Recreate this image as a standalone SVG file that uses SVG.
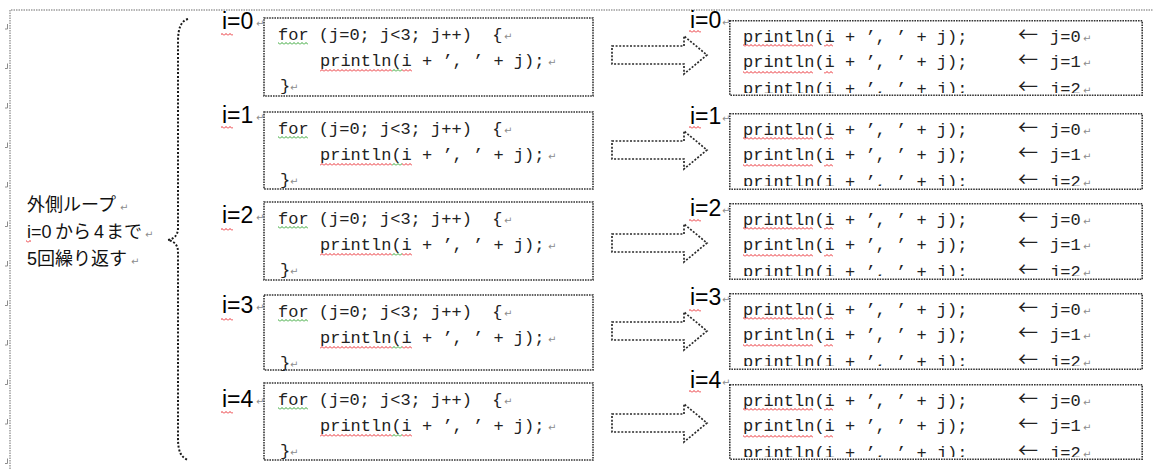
<svg xmlns="http://www.w3.org/2000/svg" width="1153" height="469" viewBox="0 0 1153 469">
<style>
  .frame{fill:none;stroke:#9d9d9d;stroke-width:1.5;stroke-dasharray:1.5 1}
  .mark{fill:none;stroke:#8c8c8c;stroke-width:1}
  .box{fill:#fff;stroke:#333;stroke-width:1.6;stroke-dasharray:1.6 1}
  .brace{fill:none;stroke:#1a1a1a;stroke-width:2;stroke-dasharray:2 1.8}
  .arrow{fill:#fff;stroke:#2a2a2a;stroke-width:1.7;stroke-dasharray:2 1.6;stroke-linejoin:miter}
  .code{font-family:"Liberation Mono","DejaVu Sans Mono",monospace;font-size:17px;fill:#222;white-space:pre}
  .lbl{font-family:"Liberation Sans",Arial,sans-serif;font-size:23px;fill:#000}
  .jp{font-family:"Liberation Sans","Noto Sans CJK JP",sans-serif;font-size:18px;fill:#111}
  .la{font-family:"Noto Sans CJK JP",sans-serif;font-size:20px;fill:#222}
  .ret{font-family:"DejaVu Sans",sans-serif;font-size:10px;fill:#8c8c8c}
</style>
<defs>
  <pattern id="wavyRed" width="4" height="3" patternUnits="userSpaceOnUse">
    <path d="M0,2.5 L2,0.5 L4,2.5" fill="none" stroke="#e8141a" stroke-width="0.9"/>
  </pattern>
  <pattern id="wavyGreen" width="4" height="3" patternUnits="userSpaceOnUse">
    <path d="M0,2.5 L2,0.5 L4,2.5" fill="none" stroke="#1a9a1a" stroke-width="0.9"/>
  </pattern>
  <!-- the last unrolled line is cut off by the box edge -->
  <clipPath id="lastRowClip">
    <rect x="0" y="0" width="414" height="73"/>
  </clipPath>
  <!-- block arrow, centred on y=0 -->
  <path id="blockArrow" class="arrow" d="M612,-9 H684 V-19 L707,0 L684,19 V9 H612 Z"/>
  <!-- for-loop body shown in each left box -->
  <g id="loopCode">
    <text class="code" x="14" y="22">for (j=0; j&lt;3; j++)  {</text>
    <text class="ret" x="240" y="22">↵</text>
    <rect x="14" y="24" width="30" height="3" fill="url(#wavyGreen)"/>
    <text class="code" x="56" y="48">println(i + ’, ’ + j);</text>
    <text class="ret" x="284" y="48">↵</text>
    <rect x="56" y="51" width="72" height="3" fill="url(#wavyRed)"/>
    <rect x="128" y="51" width="10" height="3" fill="url(#wavyGreen)"/>
    <rect x="138" y="51" width="10" height="3" fill="url(#wavyRed)"/>
    <text class="code" x="16" y="73">}</text>
    <text class="ret" x="26" y="73">↵</text>
  </g>
  <!-- three unrolled calls shown in each right box -->
  <g id="unrolled">
    <text class="code" x="14" y="22">println(i + ’, ’ + j);</text>
    <text class="la" x="289" y="22">←</text>
    <text class="code" x="321" y="22">j=0</text>
    <text class="ret" x="354" y="22">↵</text>
    <rect x="14" y="24" width="70" height="3" fill="url(#wavyRed)"/>
    <rect x="95" y="24" width="9" height="3" fill="url(#wavyRed)"/>
    <text class="code" x="14" y="47">println(i + ’, ’ + j);</text>
    <text class="la" x="289" y="47">←</text>
    <text class="code" x="321" y="47">j=1</text>
    <text class="ret" x="354" y="47">↵</text>
    <rect x="14" y="51" width="70" height="3" fill="url(#wavyRed)"/>
    <rect x="95" y="51" width="9" height="3" fill="url(#wavyRed)"/>
    <g clip-path="url(#lastRowClip)">
      <text class="code" x="14" y="74">println(i + ’, ’ + j);</text>
      <text class="la" x="289" y="74">←</text>
      <text class="code" x="321" y="74">j=2</text>
      <text class="ret" x="354" y="74">↵</text>
    </g>
  </g>
</defs>

<rect width="1153" height="469" fill="#fff"/>

<!-- page frame and margin line markers -->
<g id="page">
  <path class="frame" d="M10,469 V10 H1153"/>
  <path class="mark" d="M7.5,24 V29 H5 M7.5,63.5 V68.5 H5 M7.5,103 V108 H5 M7.5,142.5 V147.5 H5 M7.5,182 V187 H5 M7.5,221.5 V226.5 H5 M7.5,261 V266 H5 M7.5,300.5 V305.5 H5 M7.5,340 V345 H5 M7.5,379.5 V384.5 H5 M7.5,419 V424 H5 M7.5,458.5 V463.5 H5"/>
</g>

<!-- outer loop description -->
<g id="outer-label">
  <text class="jp" x="27" y="211">外側ループ</text>
  <text class="ret" x="120" y="211">↵</text>
  <text class="jp" y="238"><tspan x="27">i=0</tspan><tspan x="55">から</tspan><tspan x="94">4</tspan><tspan x="106">まで</tspan></text>
  <rect x="26" y="240" width="5" height="3" fill="url(#wavyRed)"/>
  <text class="ret" x="145" y="238">↵</text>
  <text class="jp" x="27" y="265">5回繰り返す</text>
  <text class="ret" x="131" y="265">↵</text>
</g>

<g id="brace">
  <path class="brace" d="M188,19 C181,21 178,28 178,42 V228 Q178,238 168,240 Q178,242 178,252 V438 C178,452 181,457 188,460"/>
</g>

<!-- inner loops as written -->
<g id="loop-i0">
  <text class="lbl" x="222" y="29">i=0</text>
  <rect x="221" y="33" width="12" height="3" fill="url(#wavyRed)"/>
  <text class="ret" x="256" y="27">↵</text>
  <rect class="box" x="264" y="18" width="329" height="78"/>
  <use href="#loopCode" x="264" y="18"/>
</g>
<g id="loop-i1">
  <text class="lbl" x="222" y="123">i=1</text>
  <rect x="221" y="126" width="12" height="3" fill="url(#wavyRed)"/>
  <text class="ret" x="256" y="121">↵</text>
  <rect class="box" x="264" y="112" width="329" height="77"/>
  <use href="#loopCode" x="264" y="112"/>
</g>
<g id="loop-i2">
  <text class="lbl" x="222" y="223">i=2</text>
  <rect x="221" y="228" width="12" height="3" fill="url(#wavyRed)"/>
  <text class="ret" x="256" y="221">↵</text>
  <rect class="box" x="264" y="202" width="329" height="78"/>
  <use href="#loopCode" x="264" y="202"/>
</g>
<g id="loop-i3">
  <text class="lbl" x="222" y="313">i=3</text>
  <rect x="221" y="318" width="12" height="3" fill="url(#wavyRed)"/>
  <text class="ret" x="256" y="311">↵</text>
  <rect class="box" x="264" y="295" width="329" height="75"/>
  <use href="#loopCode" x="264" y="295"/>
</g>
<g id="loop-i4">
  <text class="lbl" x="222" y="407">i=4</text>
  <rect x="221" y="411" width="12" height="3" fill="url(#wavyRed)"/>
  <text class="ret" x="256" y="405">↵</text>
  <rect class="box" x="264" y="383" width="329" height="77"/>
  <use href="#loopCode" x="264" y="383"/>
</g>

<!-- block arrows from each loop to its unrolled form -->
<g id="connectors">
  <use href="#blockArrow" y="55"/>
  <use href="#blockArrow" y="150"/>
  <use href="#blockArrow" y="243"/>
  <use href="#blockArrow" y="331"/>
  <use href="#blockArrow" y="423"/>
</g>

<!-- unrolled statements -->
<g id="unrolled-i0">
  <text class="lbl" x="690" y="28">i=0</text>
  <rect x="689" y="30" width="12" height="3" fill="url(#wavyRed)"/>
  <text class="ret" x="722" y="26">↵</text>
  <svg x="729" y="20" width="414" height="76">
    <rect class="box" x="0.8" y="0.8" width="412.4" height="74.4"/>
    <use href="#unrolled"/>
  </svg>
</g>
<g id="unrolled-i1">
  <text class="lbl" x="690" y="124">i=1</text>
  <rect x="689" y="126" width="12" height="3" fill="url(#wavyRed)"/>
  <text class="ret" x="722" y="122">↵</text>
  <svg x="729" y="113" width="414" height="77">
    <rect class="box" x="0.8" y="0.8" width="412.4" height="75.4"/>
    <use href="#unrolled"/>
  </svg>
</g>
<g id="unrolled-i2">
  <text class="lbl" x="690" y="216">i=2</text>
  <rect x="689" y="219" width="12" height="3" fill="url(#wavyRed)"/>
  <text class="ret" x="722" y="214">↵</text>
  <svg x="729" y="203" width="414" height="77">
    <rect class="box" x="0.8" y="0.8" width="412.4" height="75.4"/>
    <use href="#unrolled"/>
  </svg>
</g>
<g id="unrolled-i3">
  <text class="lbl" x="690" y="305">i=3</text>
  <rect x="689" y="309" width="12" height="3" fill="url(#wavyRed)"/>
  <text class="ret" x="722" y="303">↵</text>
  <svg x="729" y="293" width="414" height="77">
    <rect class="box" x="0.8" y="0.8" width="412.4" height="75.4"/>
    <use href="#unrolled"/>
  </svg>
</g>
<g id="unrolled-i4">
  <text class="lbl" x="690" y="388">i=4</text>
  <rect x="689" y="390" width="12" height="3" fill="url(#wavyRed)"/>
  <text class="ret" x="722" y="386">↵</text>
  <svg x="729" y="384" width="414" height="76">
    <rect class="box" x="0.8" y="0.8" width="412.4" height="74.4"/>
    <use href="#unrolled"/>
  </svg>
</g>
</svg>
